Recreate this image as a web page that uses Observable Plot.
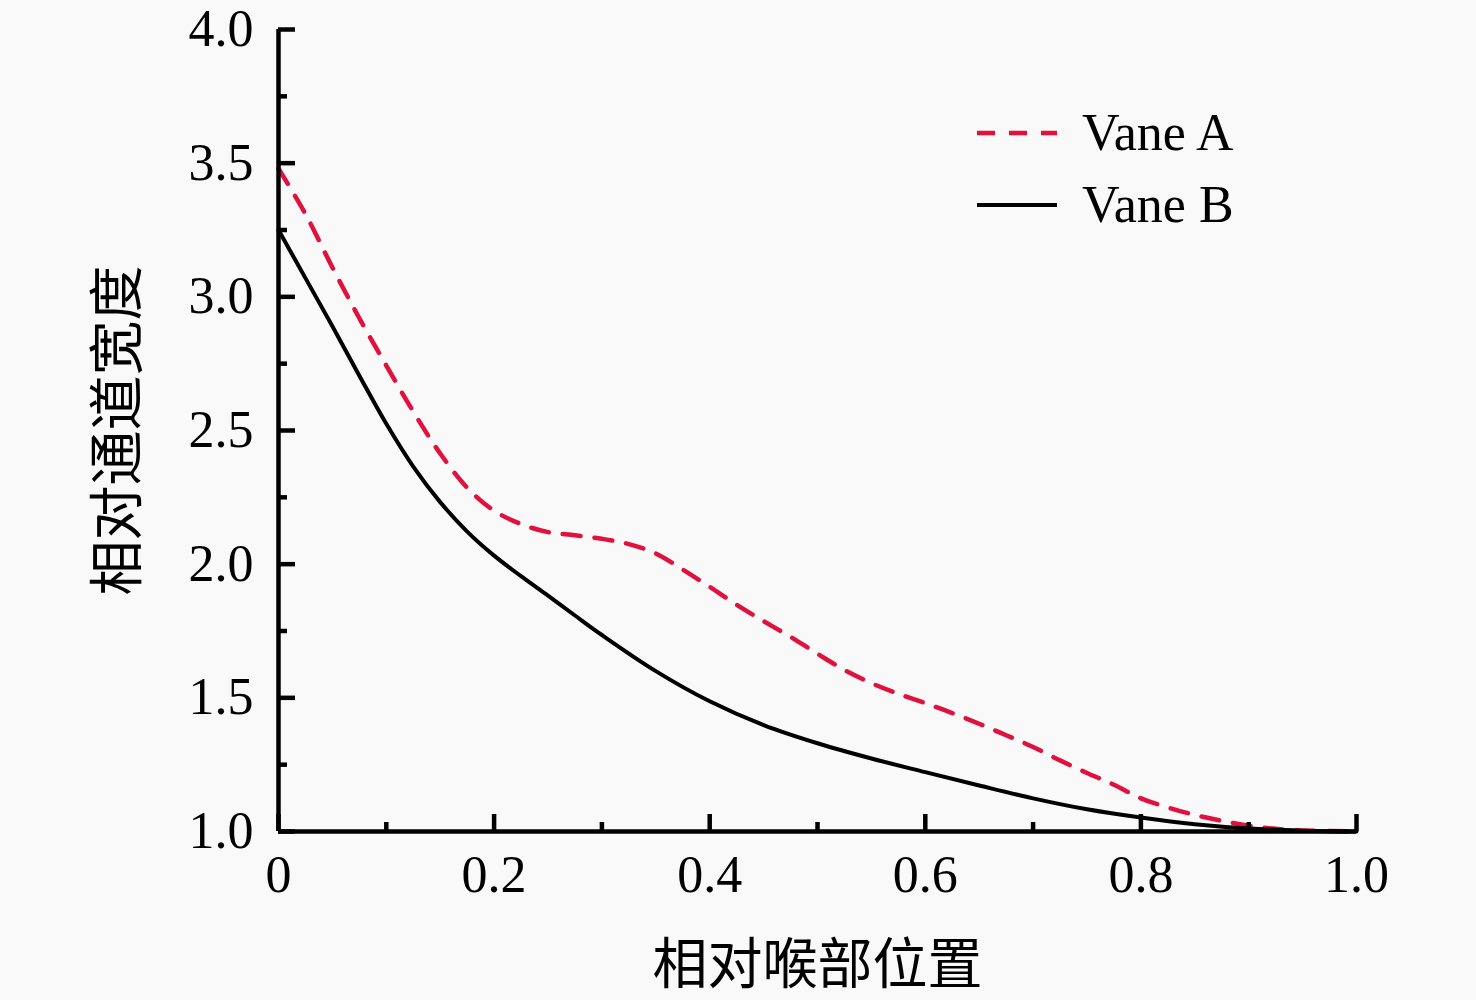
<!DOCTYPE html>
<html>
<head>
<meta charset="utf-8">
<script src="https://cdn.jsdelivr.net/npm/d3@7"></script>
<script src="https://cdn.jsdelivr.net/npm/@observablehq/plot@0.6"></script>
<style>
  html, body { margin: 0; padding: 0; background: #f9f9f9; }
  #wrap { position: relative; width: 1476px; height: 1000px; }
  #legend { position: absolute; left: 977px; top: 97px; font-family: "Liberation Serif", "Times New Roman", serif; font-size: 52px; color: #000; }
  .row { display: flex; align-items: center; height: 72px; line-height: 72px; }
  .row svg { display: block; margin-right: 25px; }
</style>
</head>
<body>
<div id="wrap">
  <div id="chart"></div>
  <div id="legend"></div>
</div>
<script>
// ---- data ----
const seriesNames = ["Vane A", "Vane B"];

const xA = [0, 0.025, 0.05, 0.075, 0.1, 0.125, 0.15, 0.175, 0.2, 0.225, 0.25, 0.275, 0.3, 0.325, 0.35, 0.375, 0.4, 0.425, 0.45, 0.475, 0.5, 0.525, 0.55, 0.575, 0.6, 0.625, 0.65, 0.675, 0.7, 0.725, 0.75, 0.775, 0.8, 0.825, 0.85, 0.875, 0.9, 0.925, 0.95, 1.0];
const yA = [3.48, 3.31, 3.11, 2.92, 2.743, 2.571, 2.414, 2.286, 2.20, 2.15, 2.12, 2.108, 2.095, 2.075, 2.04, 1.98, 1.915, 1.848, 1.787, 1.728, 1.665, 1.604, 1.555, 1.515, 1.48, 1.443, 1.403, 1.36, 1.316, 1.266, 1.219, 1.175, 1.124, 1.09, 1.062, 1.04, 1.022, 1.01, 1.004, 1.0];

const xB = [0, 0.025, 0.05, 0.075, 0.1, 0.125, 0.15, 0.175, 0.2, 0.225, 0.25, 0.275, 0.3, 0.35, 0.4, 0.45, 0.5, 0.55, 0.6, 0.65, 0.7, 0.75, 0.8, 0.85, 0.9, 0.95, 1.0];
const yB = [3.25, 3.07, 2.89, 2.705, 2.525, 2.365, 2.232, 2.122, 2.032, 1.955, 1.882, 1.808, 1.735, 1.6, 1.487, 1.398, 1.33, 1.273, 1.222, 1.172, 1.124, 1.083, 1.052, 1.027, 1.011, 1.003, 1.0];

const xMajor = [0, 0.2, 0.4, 0.6, 0.8, 1.0];
const xMinor = [0.1, 0.3, 0.5, 0.7, 0.9];
const yMajor = [1.0, 1.5, 2.0, 2.5, 3.0, 3.5, 4.0];
const yMinor = [1.25, 1.75, 2.25, 2.75, 3.25, 3.75];

const xLabel = "相对喉部位置";
const yLabel = "相对通道宽度";

// ---- build tables ----
const dataA = xA.map((x, i) => ({x, y: yA[i]}));
const dataB = xB.map((x, i) => ({x, y: yB[i]}));

const red = "#e2103c";
const serif = "Liberation Serif, Times New Roman, serif";
const cjk = "Noto Sans CJK SC, sans-serif";

const chart = Plot.plot({
  width: 1476,
  height: 1000,
  marginLeft: 278,
  marginRight: 120,
  marginTop: 29,
  marginBottom: 169,
  style: {background: "#f9f9f9", fontFamily: serif, color: "#000", overflow: "visible"},
  x: {domain: [0, 1]},
  y: {domain: [1, 4]},
  marks: [
    Plot.line(dataA, {x: "x", y: "y", stroke: red, strokeWidth: 4.5, strokeDasharray: "18,14", curve: "catmull-rom"}),
    Plot.line(dataB, {x: "x", y: "y", stroke: "#000", strokeWidth: 4, curve: "catmull-rom"}),
    Plot.ruleY([1], {stroke: "#000", strokeWidth: 4.5}),
    Plot.ruleX([0], {stroke: "#000", strokeWidth: 4.5}),
    Plot.axisX({ticks: xMajor, tickSize: -17, tickPadding: 41, strokeWidth: 4.5, fontSize: 52, label: null,
      tickFormat: d => d === 0 ? "0" : d.toFixed(1)}),
    Plot.axisX({ticks: xMinor, tickSize: -9, strokeWidth: 4.5, label: null, tickFormat: () => ""}),
    Plot.axisY({ticks: yMajor, tickSize: -17, tickPadding: 42, strokeWidth: 4.5, fontSize: 52, label: null,
      tickFormat: d => d.toFixed(1)}),
    Plot.axisY({ticks: yMinor, tickSize: -9, strokeWidth: 4.5, label: null, tickFormat: () => ""}),
    Plot.text([xLabel], {text: d => d, frameAnchor: "bottom", lineAnchor: "middle", textAnchor: "middle", dy: 134, fontSize: 55, fontFamily: cjk, fill: "#000"}),
    Plot.text([yLabel], {text: d => d, frameAnchor: "left", textAnchor: "middle", lineAnchor: "middle", dx: -160, rotate: -90, fontSize: 55, fontFamily: cjk, fill: "#000"})
  ]
});
document.getElementById("chart").appendChild(chart);

// ---- legend ----
const legend = d3.select("#legend");
const styles = [
  {stroke: red, width: 4.5, dash: "18,14"},
  {stroke: "#000", width: 4, dash: null}
];
seriesNames.forEach((name, i) => {
  const row = legend.append("div").attr("class", "row");
  const svg = row.append("svg").attr("width", 80).attr("height", 72);
  svg.append("line")
    .attr("x1", 0).attr("x2", 80).attr("y1", 36).attr("y2", 36)
    .attr("stroke", styles[i].stroke)
    .attr("stroke-width", styles[i].width)
    .attr("stroke-dasharray", styles[i].dash);
  row.append("span").text(name);
});
</script>
</body>
</html>
